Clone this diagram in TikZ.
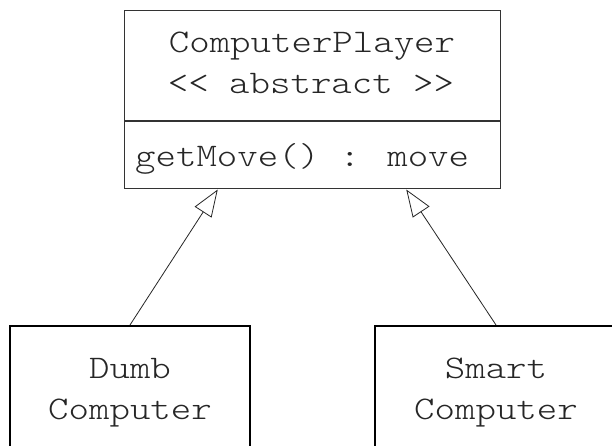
\documentclass[tikz,border=0pt]{standalone}
\usepackage{fontspec}
\newfontfamily\umlfont{lmmonolt10-regular.otf}[FakeStretch=1.18, Ligatures=TeXOff]
\usetikzlibrary{arrows.meta,calc}
\begin{document}
\begin{tikzpicture}[x=1pt,y=-1pt,
  thinbox/.style={draw=black!80, line width=1pt, inner sep=0pt},
  thickbox/.style={draw=black, line width=2pt, inner sep=0pt},
  lbl/.style={font=\umlfont\fontsize{33}{40}\selectfont, text=black!85, inner sep=0pt, anchor=base},
  inherit/.style={draw=black!85, line width=0.8pt, -{Triangle[open,length=27pt,width=20pt]}}]
\clip (0,0) rectangle (612,446);
\fill[white] (0,0) rectangle (612,446);
% abstract class
\node[thinbox, minimum width=376pt, minimum height=110pt] (cls) at (312,66) {};
\node[thinbox, minimum width=376pt, minimum height=67pt, anchor=north] (meth) at (cls.south) {};
\node[lbl] (t1) at (312,53) {ComputerPlayer};
\node[lbl] (t2) at (311,94) {<< abstract >>};
\node[lbl, anchor=base west] (m1) at (135,167) {getMove() : move};
% subclasses
\node[thickbox, minimum width=240pt, minimum height=160pt, anchor=north] (dumb) at (130,325) {};
\node[lbl] (d1) at (130,378) {Dumb};
\node[lbl] (d2) at (130,419) {Computer};
\node[thickbox, minimum width=242pt, minimum height=160pt, anchor=north] (smart) at (496,325) {};
\node[lbl] (s1) at (496,378) {Smart};
\node[lbl] (s2) at (496,419) {Computer};
% inheritance arrows
\coordinate (tipL) at ($(meth.south west)!0.25!(meth.south east)$);
\coordinate (tipR) at ($(meth.south west)!0.75!(meth.south east)$);
\draw[inherit] (dumb.north) -- (tipL);
\draw[inherit] (smart.north) -- (tipR);
\end{tikzpicture}
\end{document}
